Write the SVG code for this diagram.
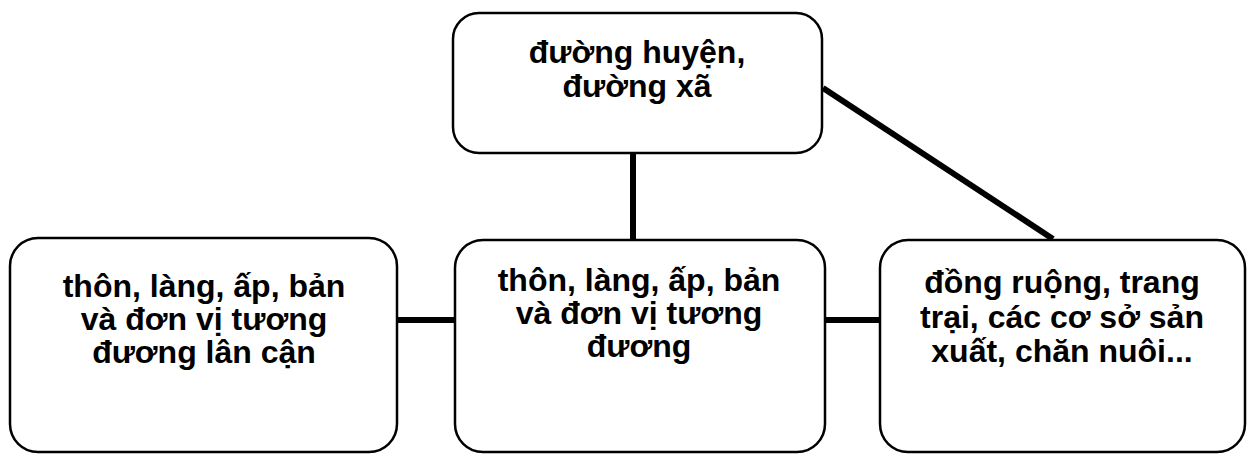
<svg xmlns="http://www.w3.org/2000/svg" width="1247" height="454" viewBox="0 0 1247 454">
<style>
.box{fill:#fff;stroke:#000;stroke-width:2.5}
.t{font-family:"Liberation Sans",Arial,sans-serif;font-weight:bold;font-size:32px;fill:#000;text-anchor:middle}
.c{stroke:#000;stroke-width:6;fill:none}
</style>
<rect width="1247" height="454" fill="#fff"/>
<g id="connectors">
<line class="c" x1="633" y1="153" x2="633" y2="240"/>
<line class="c" x1="397" y1="320" x2="455" y2="320"/>
<line class="c" x1="825" y1="320" x2="880" y2="320"/>
<line class="c" x1="823" y1="88" x2="1053" y2="239"/>
</g>
<g id="n-top">
<rect class="box" x="453" y="13" width="369" height="140" rx="26"/>
<text class="t" x="637" y="63">đường huyện,</text>
<text class="t" x="637" y="97">đường xã</text>
</g>
<g id="n-left">
<rect class="box" x="10" y="238" width="387" height="214" rx="28"/>
<text class="t" x="204" y="297">thôn, làng, ấp, bản</text>
<text class="t" x="204" y="330">và đơn vị tương</text>
<text class="t" x="204" y="363">đương lân cận</text>
</g>
<g id="n-mid">
<rect class="box" x="455" y="240" width="370" height="212" rx="28"/>
<text class="t" x="639" y="291">thôn, làng, ấp, bản</text>
<text class="t" x="639" y="324">và đơn vị tương</text>
<text class="t" x="639" y="357">đương</text>
</g>
<g id="n-right">
<rect class="box" x="880" y="240" width="365" height="212" rx="28"/>
<text class="t" x="1062" y="293">đồng ruộng, trang</text>
<text class="t" x="1062" y="328">trại, các cơ sở sản</text>
<text class="t" x="1062" y="362">xuất, chăn nuôi...</text>
</g>
</svg>
